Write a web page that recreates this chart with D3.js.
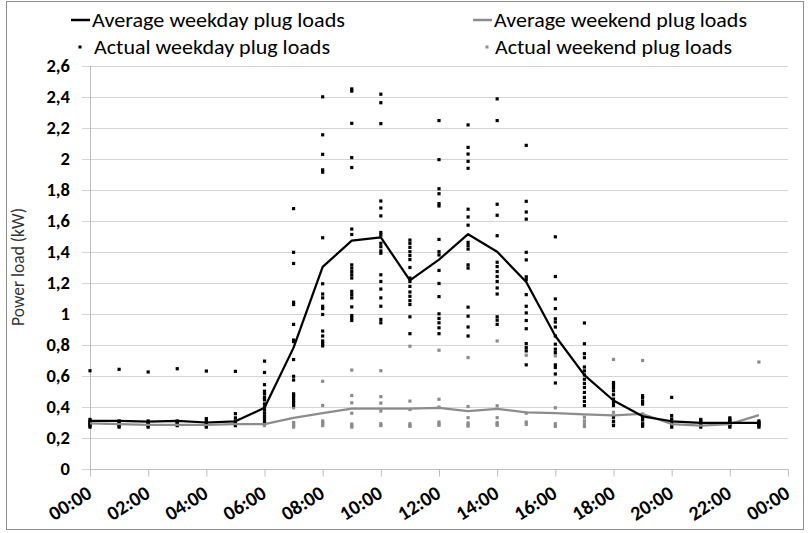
<!DOCTYPE html>
<html><head><meta charset="utf-8">
<script src="https://cdn.jsdelivr.net/npm/d3@7"></script>
<style>body{margin:0;background:#fff}svg{display:block}text{font-family:Carlito,Lato,"Liberation Sans",sans-serif}</style>
</head><body>
<script>
const hours = d3.range(0, 24);
const xTickHours = [0,2,4,6,8,10,12,14,16,18,20,22,24];
const xTickLabels = ["00:00","02:00","04:00","06:00","08:00","10:00","12:00","14:00","16:00","18:00","20:00","22:00","00:00"];
const yTicks = [0,0.2,0.4,0.6,0.8,1,1.2,1.4,1.6,1.8,2,2.2,2.4,2.6];
const yTickLabels = ["0","0,2","0,4","0,6","0,8","1","1,2","1,4","1,6","1,8","2","2,2","2,4","2,6"];
const seriesNames = ["Average weekday plug loads","Average weekend plug loads","Actual weekday plug loads","Actual weekend plug loads"];

const weekdayAvg = [0.31,0.31,0.305,0.31,0.30,0.308,0.395,0.783,1.304,1.473,1.494,1.217,1.351,1.515,1.402,1.206,0.858,0.606,0.442,0.34,0.308,0.297,0.297,0.297];
const weekendAvg = [0.295,0.29,0.285,0.285,0.285,0.29,0.29,0.33,0.36,0.39,0.39,0.39,0.395,0.373,0.388,0.365,0.36,0.352,0.346,0.355,0.29,0.28,0.29,0.348];

const weekdayActual = [
 [0.634,0.32,0.31,0.30,0.29,0.28,0.27],
 [0.643,0.31,0.30,0.29,0.28,0.27],
 [0.626,0.31,0.30,0.29,0.28,0.27],
 [0.647,0.31,0.30,0.29,0.28],
 [0.632,0.325,0.31,0.30,0.29,0.28,0.27],
 [0.63,0.357,0.33,0.31,0.30,0.29,0.28],
 [0.696,0.623,0.544,0.502,0.485,0.463,0.446,0.42,0.40,0.38,0.36,0.34,0.32,0.30],
 [1.68,1.398,1.326,1.076,1.061,0.933,0.832,0.822,0.706,0.598,0.574,0.485,0.474,0.459,0.442,0.427,0.41],
 [2.401,2.156,2.03,1.93,1.915,1.492,1.195,1.129,1.104,1.05,1.035,0.997,0.89,0.858,0.826,0.809,0.794],
 [2.452,2.438,2.23,2.009,1.945,1.548,1.513,1.317,1.296,1.274,1.253,1.232,1.146,1.125,1.104,1.046,0.99,0.975,0.958],
 [2.418,2.363,2.228,1.729,1.684,1.633,1.526,1.509,1.456,1.434,1.407,1.392,1.253,1.21,1.161,1.104,1.05,0.965,0.943],
 [1.477,1.456,1.43,1.402,1.377,1.351,1.3,1.232,1.21,1.178,1.142,1.114,1.086,1.061,0.982,0.873],
 [2.248,1.996,1.808,1.776,1.712,1.697,1.481,1.402,1.381,1.281,1.197,1.112,1.001,0.971,0.943,0.911,0.873],
 [2.22,2.075,2.032,1.985,1.94,1.676,1.626,1.573,1.462,1.441,1.419,1.317,1.296,1.044,0.986,0.916,0.858],
 [2.388,2.248,1.708,1.637,1.505,1.334,1.306,1.274,1.242,1.21,1.168,1.129,0.982,0.96,0.933],
 [2.088,1.727,1.658,1.612,1.398,1.349,1.24,1.221,1.125,1.05,1.007,0.958,0.905,0.809,0.783,0.762,0.672],
 [1.498,1.242,1.097,1.035,0.969,0.948,0.916,0.858,0.805,0.773,0.751,0.672,0.655,0.613,0.555],
 [0.942,0.808,0.744,0.718,0.658,0.633,0.607,0.579,0.552,0.526,0.494,0.462,0.436,0.409],
 [0.558,0.543,0.526,0.505,0.479,0.451,0.43,0.409,0.334,0.308,0.28],
 [0.473,0.458,0.436,0.419,0.334,0.317,0.291,0.276],
 [0.462,0.345,0.323,0.308,0.291,0.27],
 [0.32,0.31,0.30,0.29,0.28,0.27],
 [0.33,0.32,0.31,0.30,0.29,0.28,0.27],
 [0.31,0.30,0.29,0.28,0.27]
];
const weekendActual = [
 [0.30,0.29,0.28],[0.30,0.29,0.28],[0.30,0.29,0.28],[0.30,0.29,0.28],[0.30,0.29,0.28],[0.30,0.29,0.28],
 [0.30,0.29,0.28],
 [0.395,0.30,0.29,0.28,0.27],
 [0.566,0.41,0.31,0.30,0.29,0.28],
 [0.638,0.474,0.427,0.36,0.29,0.28,0.27],
 [0.634,0.467,0.425,0.374,0.292,0.28],
 [0.792,0.438,0.384,0.292,0.28,0.275],
 [0.766,0.45,0.399,0.303,0.29,0.282],
 [0.719,0.403,0.331,0.297,0.285,0.277],
 [0.826,0.408,0.331,0.299,0.29,0.282],
 [0.734,0.36,0.303,0.288],
 [0.73,0.395,0.292,0.275],
 [0.334,0.31,0.291,0.274],
 [0.707,0.366,0.30,0.291],
 [0.70,0.355,0.30,0.29],
 [0.30,0.29,0.28],
 [0.29,0.28],
 [0.30,0.29],
 [0.69,0.30,0.29]
];

const W = 809, H = 533;
const svg = d3.select("body").append("svg").attr("width", W).attr("height", H);
svg.append("rect").attr("x",6.5).attr("y",1.5).attr("width",797).attr("height",528)
  .attr("fill","#fff").attr("stroke","#8c8c8c").attr("stroke-width",1);

const x = d3.scaleLinear().domain([0,24]).range([90,788]);
const y = d3.scaleLinear().domain([0,2.6]).range([469,66]);

// gridlines
svg.append("g").selectAll("line").data(yTicks.filter(d=>d>0)).join("line")
  .attr("x1",82).attr("x2",788).attr("y1",d=>Math.round(y(d))+0.5).attr("y2",d=>Math.round(y(d))+0.5)
  .attr("stroke","#d4d4d4").attr("stroke-width",1.2);
// y axis line
svg.append("line").attr("x1",90.5).attr("x2",90.5).attr("y1",66).attr("y2",469).attr("stroke","#bdbdbd");
// x axis
const xAxis = d3.axisBottom(x).tickValues(xTickHours).tickSize(7).tickFormat((d,i)=>xTickLabels[i]);
const gx = svg.append("g").attr("transform","translate(0,469.5)").call(xAxis);
gx.select(".domain").attr("stroke","#bdbdbd").attr("d","M82,0H788");
gx.selectAll(".tick line").attr("stroke","#bdbdbd");
gx.selectAll(".tick text").attr("font-size",20).attr("font-weight","bold").attr("fill","#000")
  .attr("text-anchor","end").attr("x",0).attr("y",0).attr("dy","0.72em")
  .attr("transform","translate(-5,15) rotate(-32)");
// y axis labels
const yAxis = d3.axisLeft(y).tickValues(yTicks).tickSize(0).tickPadding(20).tickFormat((d,i)=>yTickLabels[i]);
const gy = svg.append("g").attr("transform","translate(90,0)").call(yAxis);
gy.select(".domain").remove();
gy.selectAll(".tick text").attr("font-size",18.5).attr("font-weight","bold").attr("fill","#000").attr("font-family","Carlito,Lato,sans-serif");
gy.selectAll(".tick").append("line").attr("x1",-8).attr("x2",0).attr("stroke","#d4d4d4");

svg.append("text").attr("transform","translate(24,267) rotate(-90)").attr("text-anchor","middle")
  .attr("font-size",17.5).attr("fill","#333").text("Power load (kW)");

// points
const sz = 3.2;
const wePts = weekendActual.flatMap((arr,h)=>arr.map(v=>({h,v})));
const wdPts = weekdayActual.flatMap((arr,h)=>arr.map(v=>({h,v})));
svg.append("g").selectAll("rect").data(wePts).join("rect")
  .attr("x",d=>x(d.h)-sz/2).attr("y",d=>y(d.v)-sz/2).attr("width",sz).attr("height",sz).attr("fill","#8c8c8c");
svg.append("g").selectAll("rect").data(wdPts).join("rect")
  .attr("x",d=>x(d.h)-sz/2).attr("y",d=>y(d.v)-sz/2).attr("width",sz).attr("height",sz).attr("fill","#000");

const line = d3.line().x((d,i)=>x(hours[i])).y(d=>y(d));
svg.append("path").attr("d",line(weekendAvg)).attr("fill","none").attr("stroke","#8c8c8c").attr("stroke-width",2.25).attr("stroke-linejoin","round");
svg.append("path").attr("d",line(weekdayAvg)).attr("fill","none").attr("stroke","#000").attr("stroke-width",2.25).attr("stroke-linejoin","round");

// legend
const leg = svg.append("g");
const legItems = [
  {name:seriesNames[0], type:"line", color:"#000", sx:71, tx:92, cy:20, w:253},
  {name:seriesNames[1], type:"line", color:"#8c8c8c", sx:473, tx:494, cy:20, w:253},
  {name:seriesNames[2], type:"dot", color:"#000", sx:80, tx:94, cy:47, w:236},
  {name:seriesNames[3], type:"dot", color:"#8c8c8c", sx:487, tx:495, cy:47, w:237}
];
legItems.forEach(it=>{
  if(it.type==="line") leg.append("line").attr("x1",it.sx).attr("x2",it.sx+19).attr("y1",it.cy).attr("y2",it.cy).attr("stroke",it.color).attr("stroke-width",2.5);
  else leg.append("rect").attr("x",it.sx-1.5).attr("y",it.cy-1.5).attr("width",3).attr("height",3).attr("fill",it.color);
  leg.append("text").attr("x",it.tx).attr("y",it.cy).attr("dy","0.35em").attr("font-size",20).attr("fill","#000")
    .attr("textLength",it.w).attr("lengthAdjust","spacingAndGlyphs").text(it.name);
});
</script>
</body></html>
